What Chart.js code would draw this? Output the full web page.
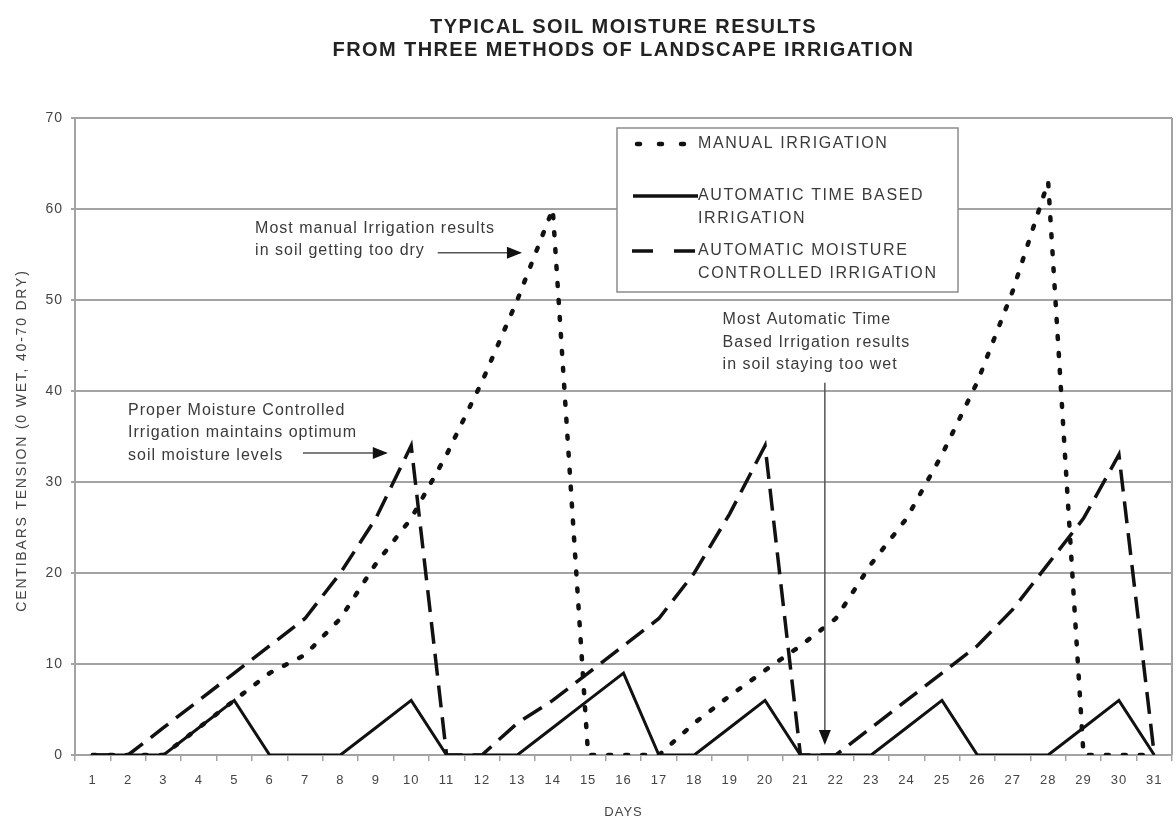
<!DOCTYPE html>
<html>
<head>
<meta charset="UTF-8">
<title>Soil moisture</title>
<script src="https://cdn.jsdelivr.net/npm/chart.js@4.4.0/dist/chart.umd.min.js"></script>
<style>
  body { margin: 0; background: #fff; }
  #wrap { width: 1176px; height: 820px; }
</style>
</head>
<body>
<div id="wrap"><canvas id="myChart" width="1176" height="820"></canvas></div>
<script>
// values
const days = ['1','2','3','4','5','6','7','8','9','10','11','12','13','14','15','16',
              '17','18','19','20','21','22','23','24','25','26','27','28','29','30','31'];
const manual   = [0,0,0,3,6,9,11,15,21,26,33,41,50,60,0,0,0,3.5,6.5,9.3,12,15,21,26,33,41,51,63,0,0,0];
const timeBased = [0,0,0,3,6,0,0,0,3,6,0,0,0,3,6,9,0,0,3,6,0,0,0,3,6,0,0,0,3,6,0];
const moisture = [0,0,3,6,9,12,15,20,26,34,0,0,3.5,6,9,12,15,20,26.5,34,0,0,3,6,9,12,16,21,26,33,0];
const yTicks = [0,10,20,30,40,50,60,70];

const titleLines = ['TYPICAL SOIL MOISTURE RESULTS', 'FROM THREE METHODS OF LANDSCAPE IRRIGATION'];
const yTitle = 'CENTIBARS TENSION (0 WET, 40-70 DRY)';
const legendItems = [
  { lines: ['MANUAL IRRIGATION'], dash: [3, 19], cap: 'round', from: 20, to: 70 },
  { lines: ['AUTOMATIC TIME BASED', 'IRRIGATION'], dash: [], cap: 'butt', from: 16, to: 81 },
  { lines: ['AUTOMATIC MOISTURE', 'CONTROLLED IRRIGATION'], dash: [21, 21], cap: 'butt', from: 15, to: 81 }
];
// notes: text, anchor (day index, value), arrow from/to (day index, value)
const notes = [
  { lines: ['Most manual Irrigation results', 'in soil getting too dry'], at: [4.59, 57.9],
    from: [9.75, 55.2], to: [12.13, 55.2] },
  { lines: ['Proper Moisture Controlled', 'Irrigation maintains optimum', 'soil moisture levels'], at: [1.0, 37.9],
    from: [5.94, 33.2], to: [8.34, 33.2] },
  { lines: ['Most Automatic Time', 'Based Irrigation results', 'in soil staying too wet'], at: [17.8, 47.8],
    from: [20.69, 40.9], to: [20.69, 1.1] }
];

const FONT = '"Liberation Sans", Arial, sans-serif';
const GRID = '#a3a3a3';

function arrowHead(ctx, x1, y1, x2, y2) {
  const a = Math.atan2(y2 - y1, x2 - x1);
  const len = 15, w = 6;
  ctx.beginPath();
  ctx.moveTo(x2, y2);
  ctx.lineTo(x2 - len * Math.cos(a) + w * Math.sin(a), y2 - len * Math.sin(a) - w * Math.cos(a));
  ctx.lineTo(x2 - len * Math.cos(a) - w * Math.sin(a), y2 - len * Math.sin(a) + w * Math.cos(a));
  ctx.closePath();
  ctx.fill();
}

const extras = {
  id: 'extras',
  beforeDraw(chart) {
    chart.ctx.letterSpacing = '1px';
  },
  beforeDatasetsDraw(chart) {
    const ctx = chart.ctx, a = chart.chartArea;
    // right frame line
    ctx.save();
    ctx.strokeStyle = GRID;
    ctx.lineWidth = 2;
    ctx.beginPath();
    ctx.moveTo(a.right, a.top);
    ctx.lineTo(a.right, a.bottom);
    ctx.stroke();
    ctx.restore();
  },
  afterDatasetsDraw(chart) {
    const ctx = chart.ctx, a = chart.chartArea;
    const xs = chart.scales.x, ys = chart.scales.y;

    // legend box
    const bx = a.left + 542, by = a.top + 10, bw = 341, bh = 164;
    ctx.save();
    ctx.fillStyle = '#fff';
    ctx.fillRect(bx, by, bw, bh);
    ctx.strokeStyle = '#8c8c8c';
    ctx.lineWidth = 1.5;
    ctx.strokeRect(bx, by, bw, bh);
    const rows = [16, 68, 123];
    ctx.font = '16px ' + FONT;
    ctx.letterSpacing = '1.6px';
    ctx.fillStyle = '#3a3a3a';
    ctx.textBaseline = 'middle';
    legendItems.forEach((it, k) => {
      const yy = by + rows[k];
      ctx.strokeStyle = '#111';
      ctx.lineWidth = it.cap === 'round' ? 4.5 : 3.5;
      ctx.lineCap = it.cap;
      ctx.setLineDash(it.dash);
      ctx.beginPath();
      ctx.moveTo(bx + it.from, yy);
      ctx.lineTo(bx + it.to, yy);
      ctx.stroke();
      ctx.setLineDash([]);
      it.lines.forEach((t, j) => ctx.fillText(t, bx + 81, yy + j * 22.5));
    });
    ctx.restore();

    // notes and arrows
    ctx.save();
    ctx.font = '16px ' + FONT;
    ctx.letterSpacing = '1px';
    ctx.textBaseline = 'middle';
    notes.forEach(n => {
      const tx = xs.getPixelForValue(n.at[0]);
      const ty = ys.getPixelForValue(n.at[1]);
      ctx.fillStyle = '#3a3a3a';
      n.lines.forEach((t, j) => ctx.fillText(t, tx, ty + j * 22.5));
      const x1 = xs.getPixelForValue(n.from[0]), y1 = ys.getPixelForValue(n.from[1]);
      const x2 = xs.getPixelForValue(n.to[0]), y2 = ys.getPixelForValue(n.to[1]);
      ctx.strokeStyle = '#555';
      ctx.lineWidth = 1.5;
      ctx.beginPath();
      ctx.moveTo(x1, y1);
      ctx.lineTo(x2 - (x2 - x1) * 0.02, y2 - (y2 - y1) * 0.02);
      ctx.stroke();
      ctx.fillStyle = '#111';
      arrowHead(ctx, x1, y1, x2, y2);
    });
    ctx.restore();

    // y axis title
    ctx.save();
    ctx.font = '14px ' + FONT;
    ctx.letterSpacing = '1.8px';
    ctx.fillStyle = '#444';
    ctx.textAlign = 'center';
    ctx.textBaseline = 'middle';
    ctx.translate(22, (a.top + a.bottom) / 2 + 4);
    ctx.rotate(-Math.PI / 2);
    ctx.fillText(yTitle, 0, 0);
    ctx.restore();

    // title, centred over the plot area
    ctx.save();
    ctx.font = 'bold 20px ' + FONT;
    ctx.letterSpacing = '1.4px';
    ctx.fillStyle = '#222';
    ctx.textAlign = 'center';
    ctx.textBaseline = 'middle';
    const cx = (a.left + a.right) / 2;
    titleLines.forEach((t, j) => ctx.fillText(t, cx, 27 + j * 23.5));
    ctx.restore();
  }
};

new Chart('myChart', {
  type: 'line',
  data: {
    labels: days,
    datasets: [
      { label: 'AUTOMATIC MOISTURE CONTROLLED IRRIGATION', data: moisture,
        borderColor: '#111', borderWidth: 3.5, borderDash: [22, 10] },
      { label: 'AUTOMATIC TIME BASED IRRIGATION', data: timeBased,
        borderColor: '#111', borderWidth: 3 },
      { label: 'MANUAL IRRIGATION', data: manual,
        borderColor: '#111', borderWidth: 4.5, borderDash: [3, 14], borderCapStyle: 'round' }
    ]
  },
  options: {
    responsive: false,
    animation: false,
    events: [],
    layout: { padding: { top: 118, right: 4, left: 0, bottom: 0 } },
    elements: { point: { radius: 0 }, line: { tension: 0, fill: false } },
    plugins: { legend: { display: false }, tooltip: { enabled: false } },
    scales: {
      x: {
        offset: true,
        grid: { offset: true, drawOnChartArea: false, color: GRID, lineWidth: 1.5, tickLength: 6 },
        border: { color: GRID, width: 2 },
        ticks: { color: '#444', font: { family: FONT, size: 13 }, padding: 12, maxRotation: 0, autoSkip: false },
        title: { display: true, text: 'DAYS', color: '#444', font: { family: FONT, size: 13 }, padding: { top: 0, bottom: 0 } },
        afterFit(s) { s.height = 65; }
      },
      y: {
        min: 0, max: 70,
        afterBuildTicks(s) { s.ticks = yTicks.map(v => ({ value: v })); },
        grid: { color: GRID, lineWidth: 2, tickLength: 4 },
        border: { color: GRID, width: 2 },
        ticks: { color: '#444', font: { family: FONT, size: 14 }, padding: 8 },
        afterFit(s) { s.width = 75; }
      }
    }
  },
  plugins: [extras]
});
</script>
</body>
</html>
